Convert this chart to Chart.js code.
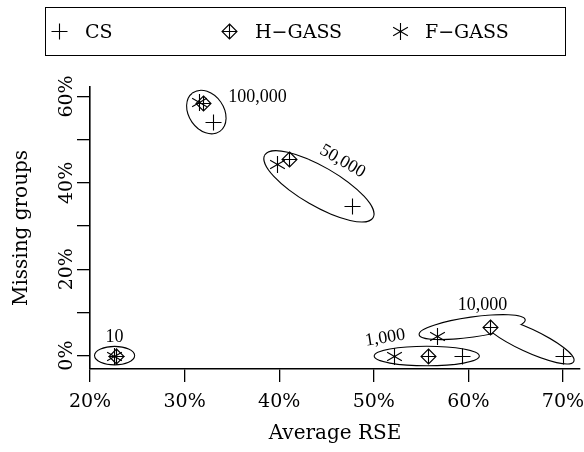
<!DOCTYPE html>
<html>
<head>
<meta charset="utf-8">
<script src="https://cdn.jsdelivr.net/npm/chart.js@4.4.0/dist/chart.umd.min.js"></script>
<style>
  html, body { margin: 0; padding: 0; background: #fff; }
  #wrap { width: 584px; height: 452px; }
</style>
</head>
<body>
<div id="wrap"><canvas id="grafico"></canvas></div>
<script>
// dados (tamanhos de amostra: 10, 1.000, 10.000, 50.000, 100.000)
const amostras = ['10', '1,000', '10,000', '50,000', '100,000'];
const csRse = [22.7, 59.3, 70.0, 47.7, 33.0];
const csMiss = [0, 0, 0, 34.7, 54.0];
const hRse = [22.8, 55.7, 62.3, 41.0, 31.9];
const hMiss = [0, 0, 6.7, 45.5, 58.4];
const fRse = [22.5, 52.1, 56.7, 39.8, 31.5];
const fMiss = [0, 0, 4.5, 44.3, 58.7];
const xTicks = [20, 30, 40, 50, 60, 70];
const yTicks = [0, 10, 20, 30, 40, 50, 60];
const yLabels = [0, 20, 40, 60];

// elipses em volta de cada grupo (centro em unidades do grafico, raios em px)
const elipses = [
  { grupo: '10,000', x: 60.4, y: 6.6, rx: 53, ry: 9.5, ang: -8 },
  { grupo: '10,000', x: 66.3, y: 3.6, rx: 50, ry: 11, ang: 25 },
  { grupo: '10', x: 22.6, y: 0, rx: 19.5, ry: 8.7, ang: 0 },
  { grupo: '1,000', x: 55.6, y: -0.1, rx: 52, ry: 9.2, ang: 0 },
  { grupo: '50,000', x: 44.2, y: 39.2, rx: 62, ry: 19, ang: 30 },
  { grupo: '100,000', x: 32.3, y: 56.4, rx: 23, ry: 17, ang: 55 }
];
const rotulos = [
  { texto: '10', x: 22.6, y: 4.3, ang: 0 },
  { texto: '1,000', x: 51.2, y: 4.1, ang: -9 },
  { texto: '10,000', x: 61.5, y: 11.7, ang: 0 },
  { texto: '50,000', x: 46.7, y: 45.0, ang: 30 },
  { texto: '100,000', x: 37.7, y: 59.8, ang: 0 }
];

function pontos(xs, ys) {
  return xs.map((v, i) => ({ x: v, y: ys[i] }));
}

// simbolos desenhados a mao (mais, losango com cruz, asterisco)
function desenhaSimbolo(ctx, tipo, px, py) {
  const cx = Math.round(px) + 0.5;
  const cy = Math.round(py) + 0.5;
  ctx.save();
  ctx.strokeStyle = '#000';
  ctx.lineWidth = 1.1;
  ctx.translate(cx, cy);
  ctx.beginPath();
  if (tipo === 'mais') {
    const r = 8;
    ctx.moveTo(-r, 0); ctx.lineTo(r, 0); ctx.moveTo(0, -r); ctx.lineTo(0, r);
  } else if (tipo === 'losango') {
    const r = 7.5;
    ctx.moveTo(0, -r); ctx.lineTo(r, 0); ctx.lineTo(0, r); ctx.lineTo(-r, 0); ctx.closePath();
    ctx.moveTo(-r, 0); ctx.lineTo(r, 0); ctx.moveTo(0, -r); ctx.lineTo(0, r);
  } else {
    const r = 8.5;
    [90, 30, 150].forEach(a => {
      const t = a * Math.PI / 180;
      ctx.moveTo(-r * Math.cos(t), -r * Math.sin(t));
      ctx.lineTo(r * Math.cos(t), r * Math.sin(t));
    });
  }
  ctx.stroke();
  ctx.restore();
}

const fonte = 'DejaVu Serif';

const camadaElipses = {
  id: 'camadaElipses',
  beforeDatasetsDraw(chart) {
    const { ctx, scales: { x, y } } = chart;
    ctx.save();
    const ordem = ['10,000', '10', '1,000', '50,000', '100,000'];
    ordem.forEach(g => {
      const lista = elipses.filter(e => e.grupo === g);
      const caminho = e => {
        ctx.beginPath();
        ctx.ellipse(x.getPixelForValue(e.x), y.getPixelForValue(e.y), e.rx, e.ry, e.ang * Math.PI / 180, 0, 2 * Math.PI);
      };
      // traço duplo e depois preenche de branco: fica so o contorno da uniao
      ctx.strokeStyle = '#000';
      ctx.lineWidth = 2.2;
      lista.forEach(e => { caminho(e); ctx.stroke(); });
      ctx.fillStyle = '#fff';
      lista.forEach(e => { caminho(e); ctx.fill(); });
    });
    ctx.fillStyle = '#000';
    ctx.font = '18px "Liberation Serif"';
    ctx.textAlign = 'center';
    ctx.textBaseline = 'middle';
    rotulos.forEach(r => {
      ctx.save();
      ctx.translate(x.getPixelForValue(r.x), y.getPixelForValue(r.y));
      ctx.rotate(r.ang * Math.PI / 180);
      ctx.fillText(r.texto, 0, 0);
      ctx.restore();
    });
    ctx.restore();
  },
  afterDatasetsDraw(chart) {
    const { ctx } = chart;
    chart.data.datasets.forEach((ds, i) => {
      chart.getDatasetMeta(i).data.forEach(p => desenhaSimbolo(ctx, ds.simbolo, p.x, p.y));
    });
  },
  afterDraw(chart) {
    const { ctx, scales: { y } } = chart;
    ctx.save();
    ctx.fillStyle = '#000';
    // rotulos do eixo y, girados
    ctx.font = '19px "' + fonte + '"';
    ctx.textAlign = 'center';
    ctx.textBaseline = 'alphabetic';
    yLabels.forEach(v => {
      ctx.save();
      ctx.translate(72, y.getPixelForValue(v));
      ctx.rotate(-Math.PI / 2);
      ctx.fillText(v + '%', 0, 0);
      ctx.restore();
    });
    // legenda com caixa
    ctx.strokeStyle = '#000';
    ctx.lineWidth = 1;
    ctx.strokeRect(45.5, 7.5, 520, 48);
    const posSimb = [59, 229, 400];
    const posTexto = [85, 255, 425];
    ctx.textAlign = 'left';
    ctx.textBaseline = 'middle';
    chart.data.datasets.forEach((ds, i) => {
      desenhaSimbolo(ctx, ds.simbolo, posSimb[i], 31);
      ctx.fillText(ds.label, posTexto[i], 33);
    });
    ctx.restore();
  }
};

const ctxGrafico = document.getElementById('grafico');

new Chart(ctxGrafico, {
  type: 'scatter',
  data: {
    datasets: [
      { label: 'CS', data: pontos(csRse, csMiss), simbolo: 'mais' },
      { label: 'H\u2212GASS', data: pontos(hRse, hMiss), simbolo: 'losango' },
      { label: 'F\u2212GASS', data: pontos(fRse, fMiss), simbolo: 'estrela' }
    ]
  },
  options: {
    responsive: true,
    maintainAspectRatio: false,
    animation: false,
    layout: { autoPadding: false, padding: { top: 87, left: 0, right: 4, bottom: 0 } },
    elements: { point: { radius: 0, hoverRadius: 0 } },
    plugins: {
      legend: { display: false },
      tooltip: { enabled: false }
    },
    scales: {
      x: {
        type: 'linear',
        min: 20,
        max: 71.8,
        afterBuildTicks: s => { s.ticks = xTicks.map(v => ({ value: v })); },
        afterFit: s => { s.height = 83; s.paddingLeft = 0; s.paddingRight = 0; },
        border: { display: true, color: '#000', width: 1.6 },
        grid: { drawOnChartArea: false, drawTicks: true, tickLength: 13, color: '#000', lineWidth: 1.3 },
        ticks: {
          color: '#000',
          font: { family: fonte, size: 19 },
          padding: 9,
          maxRotation: 0,
          callback: v => v + '%'
        },
        title: {
          display: true,
          text: 'Average RSE',
          color: '#000',
          font: { family: fonte, size: 20 },
          padding: { top: 0, bottom: 6 }
        }
      },
      y: {
        type: 'linear',
        min: -3.1,
        max: 62.2,
        afterBuildTicks: s => { s.ticks = yTicks.map(v => ({ value: v })); },
        afterFit: s => { s.width = 90; s.paddingTop = 0; s.paddingBottom = 0; },
        border: { display: true, color: '#000', width: 1.6 },
        grid: { drawOnChartArea: false, drawTicks: true, tickLength: 13, color: '#000', lineWidth: 1.3 },
        ticks: { display: false },
        title: {
          display: true,
          text: 'Missing groups',
          color: '#000',
          font: { family: fonte, size: 20 },
          padding: { top: 10, bottom: 0 }
        }
      }
    }
  },
  plugins: [camadaElipses]
});
</script>
</body>
</html>
